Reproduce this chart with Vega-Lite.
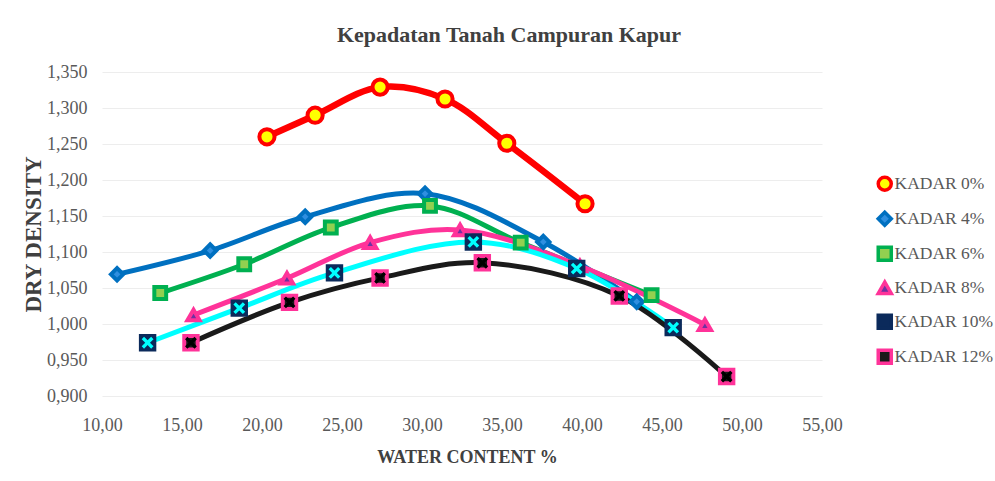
{
  "$schema": "https://vega.github.io/schema/vega-lite/v6.json",
  "autosize": {"type": "none"},
  "width": 720,
  "height": 324,
  "padding": {"left": 102, "top": 72, "right": 173, "bottom": 85},
  "background": "white",
  "config": {
    "locale": {"number": {"decimal": ",", "thousands": ".", "grouping": [3], "currency": ["", ""]}},
    "view": {"stroke": null},
    "font": "Liberation Serif"
  },
  "title": {
    "text": "Kepadatan Tanah Campuran Kapur",
    "font": "Liberation Serif",
    "fontSize": 22,
    "fontWeight": "bold",
    "color": "#404040",
    "anchor": "middle",
    "frame": "group",
    "dx": 47,
    "baseline": "alphabetic",
    "offset": 20,
    "dy": 21
  },
  "data": {
    "values": [
      {"series": "KADAR 0%", "x": 20.31, "y": 1.260},
      {"series": "KADAR 0%", "x": 23.32, "y": 1.290},
      {"series": "KADAR 0%", "x": 27.38, "y": 1.329},
      {"series": "KADAR 0%", "x": 31.44, "y": 1.3125},
      {"series": "KADAR 0%", "x": 35.30, "y": 1.251},
      {"series": "KADAR 0%", "x": 40.19, "y": 1.167},
      {"series": "KADAR 4%", "x": 10.94, "y": 1.069},
      {"series": "KADAR 4%", "x": 16.76, "y": 1.102},
      {"series": "KADAR 4%", "x": 22.70, "y": 1.149},
      {"series": "KADAR 4%", "x": 30.19, "y": 1.181},
      {"series": "KADAR 4%", "x": 37.58, "y": 1.114},
      {"series": "KADAR 4%", "x": 43.42, "y": 1.031},
      {"series": "KADAR 6%", "x": 13.64, "y": 1.043},
      {"series": "KADAR 6%", "x": 18.89, "y": 1.083},
      {"series": "KADAR 6%", "x": 24.30, "y": 1.134},
      {"series": "KADAR 6%", "x": 30.50, "y": 1.164},
      {"series": "KADAR 6%", "x": 36.17, "y": 1.113},
      {"series": "KADAR 6%", "x": 44.35, "y": 1.040},
      {"series": "KADAR 8%", "x": 15.72, "y": 1.0125},
      {"series": "KADAR 8%", "x": 21.56, "y": 1.0635},
      {"series": "KADAR 8%", "x": 26.76, "y": 1.113},
      {"series": "KADAR 8%", "x": 32.38, "y": 1.1306},
      {"series": "KADAR 8%", "x": 39.87, "y": 1.0806},
      {"series": "KADAR 8%", "x": 47.68, "y": 0.999},
      {"series": "KADAR 10%", "x": 12.85, "y": 0.974},
      {"series": "KADAR 10%", "x": 18.58, "y": 1.022},
      {"series": "KADAR 10%", "x": 24.53, "y": 1.071},
      {"series": "KADAR 10%", "x": 33.21, "y": 1.114},
      {"series": "KADAR 10%", "x": 39.67, "y": 1.077},
      {"series": "KADAR 10%", "x": 45.70, "y": 0.995},
      {"series": "KADAR 12%", "x": 15.56, "y": 0.974},
      {"series": "KADAR 12%", "x": 21.72, "y": 1.030},
      {"series": "KADAR 12%", "x": 27.38, "y": 1.064},
      {"series": "KADAR 12%", "x": 33.77, "y": 1.085},
      {"series": "KADAR 12%", "x": 42.33, "y": 1.039},
      {"series": "KADAR 12%", "x": 49.04, "y": 0.927}
    ]
  },
  "encoding": {
    "x": {
      "field": "x",
      "type": "quantitative",
      "scale": {"domain": [10, 55], "nice": false, "zero": false},
      "axis": {
        "values": [10, 15, 20, 25, 30, 35, 40, 45, 50, 55],
        "format": ".2f",
        "title": "WATER CONTENT %",
        "grid": false,
        "domain": false,
        "ticks": false,
        "labelFlush": false,
        "labelOverlap": false,
        "labelFont": "Liberation Serif",
        "labelFontSize": 18,
        "labelColor": "#595959",
        "labelPadding": 20,
        "titleFont": "Liberation Serif",
        "titleFontSize": 18,
        "titleFontWeight": "bold",
        "titleColor": "#404040",
        "titleX": 365,
        "titleY": 61,
        "titleBaseline": "middle",
        "titleAlign": "center"
      }
    },
    "y": {
      "field": "y",
      "type": "quantitative",
      "scale": {"domain": [0.9, 1.35], "nice": false, "zero": false},
      "axis": {
        "values": [0.9, 0.95, 1.0, 1.05, 1.1, 1.15, 1.2, 1.25, 1.3, 1.35],
        "format": ".3f",
        "title": "DRY DENSITY",
        "grid": true,
        "gridColor": "#EDEDED",
        "gridWidth": 1,
        "domain": false,
        "ticks": false,
        "labelFlush": false,
        "labelOverlap": false,
        "labelFont": "Liberation Serif",
        "labelFontSize": 18,
        "labelColor": "#595959",
        "labelPadding": 15,
        "titleFont": "Liberation Serif",
        "titleFontSize": 23,
        "titleFontWeight": "bold",
        "titleColor": "#404040",
        "titleX": -69,
        "titleY": 162,
        "titleBaseline": "middle",
        "titleAlign": "center",
        "titleAngle": -90
      }
    }
  },
  "layer": [
    {
      "mark": {"type": "line", "interpolate": "catmull-rom", "strokeWidth": 5},
      "encoding": {
        "color": {
          "field": "series",
          "type": "nominal",
          "scale": {
            "range": ["#FF0000", "#00FFFF", "#1A1A1A", "#0070C0", "#00B050", "#FF3399"]
          },
          "legend": null
        }
      }
    },
    {
      "transform": [{"filter": "datum.series === 'KADAR 0%'"}],
      "mark": {"type": "line", "interpolate": "catmull-rom", "strokeWidth": 6.5, "color": "#FF0000"},
      "encoding": {}
    },
    {
      "mark": {"type": "point", "filled": true, "opacity": 1, "strokeWidth": 4},
      "encoding": {
        "shape": {
          "field": "series",
          "type": "nominal",
          "scale": {
            "domain": ["KADAR 0%", "KADAR 4%", "KADAR 6%", "KADAR 8%", "KADAR 10%", "KADAR 12%"],
            "range": ["circle", "diamond", "square", "triangle-up", "square", "square"]
          },
          "legend": {
            "title": null,
            "orient": "none",
            "legendX": 774,
            "legendY": 103,
            "padding": 0,
            "labelFont": "Liberation Serif",
            "labelFontSize": 17.5,
            "labelColor": "#595959",
            "symbolSize": 170,
            "symbolStrokeWidth": 3.5,
            "rowPadding": 7,
            "labelOffset": 1
          }
        },
        "fill": {
          "field": "series",
          "type": "nominal",
          "scale": {
            "domain": ["KADAR 0%", "KADAR 4%", "KADAR 6%", "KADAR 8%", "KADAR 10%", "KADAR 12%"],
            "range": ["#FFFF00", "#2F8FE0", "#92D050", "#7030A0", "#0B2A5B", "#1A1A1A"]
          },
          "legend": {"title": null}
        },
        "stroke": {
          "field": "series",
          "type": "nominal",
          "scale": {
            "domain": ["KADAR 0%", "KADAR 4%", "KADAR 6%", "KADAR 8%", "KADAR 10%", "KADAR 12%"],
            "range": ["#FF0000", "#0070C0", "#00B050", "#FF3399", "#0B2A5B", "#FF3399"]
          },
          "legend": {"title": null}
        },
        "size": {
          "field": "series",
          "type": "nominal",
          "scale": {
            "type": "ordinal",
            "range": [230, 180, 180, 150, 140, 150]
          },
          "legend": null
        }
      }
    },
    {
      "transform": [{"filter": "datum.series === 'KADAR 10%'"}],
      "mark": {"type": "point", "filled": true, "opacity": 1, "size": 140, "fill": "#00FFFF", "strokeWidth": 0,
        "shape": "M-1,-0.6L-0.6,-1L0,-0.4L0.6,-1L1,-0.6L0.4,0L1,0.6L0.6,1L0,0.4L-0.6,1L-1,0.6L-0.4,0Z"}
    },
    {
      "transform": [{"filter": "datum.series === 'KADAR 12%'"}],
      "mark": {"type": "point", "filled": true, "opacity": 1, "size": 140, "fill": "#000000", "strokeWidth": 0,
        "shape": "M-1,-0.6L-0.6,-1L0,-0.4L0.6,-1L1,-0.6L0.4,0L1,0.6L0.6,1L0,0.4L-0.6,1L-1,0.6L-0.4,0Z"}
    }
  ]
}
